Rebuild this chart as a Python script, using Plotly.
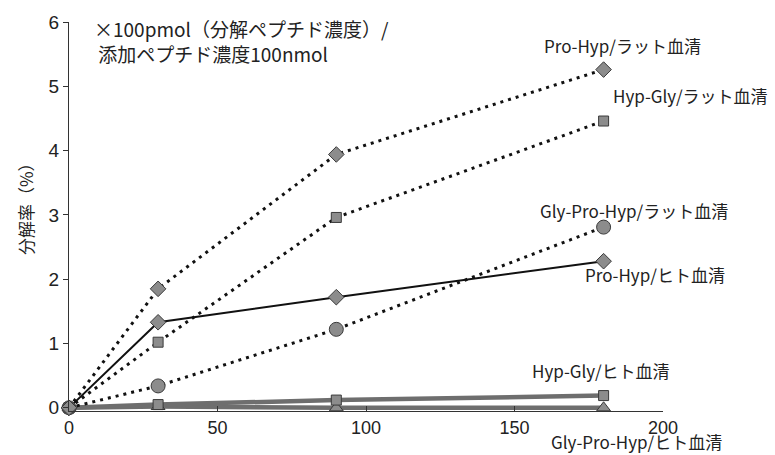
import plotly.graph_objects as go

# Incubation time points (x axis)
time_points = [0, 30, 90, 180]

# Degradation rate (%) for each peptide / serum combination
pro_hyp_rat = [0, 1.85, 3.94, 5.26]
hyp_gly_rat = [0, 1.02, 2.96, 4.46]
gly_pro_hyp_rat = [0, 0.34, 1.22, 2.81]
pro_hyp_human = [0, 1.33, 1.72, 2.28]
hyp_gly_human = [0, 0.05, 0.12, 0.19]
gly_pro_hyp_human = [0, 0.02, 0.0, 0.0]

series_names = [
    "Pro-Hyp/ラット血清",
    "Hyp-Gly/ラット血清",
    "Gly-Pro-Hyp/ラット血清",
    "Pro-Hyp/ヒト血清",
    "Hyp-Gly/ヒト血清",
    "Gly-Pro-Hyp/ヒト血清",
]

x_ticks = [0, 50, 100, 150, 200]
y_ticks = [0, 1, 2, 3, 4, 5, 6]

TEXT = "#222222"
MARK = "#8c8c8c"
EDGE = "#3a3a3a"
FONT = "Noto Sans CJK JP"

W, H = 775, 455
ML, MR, MT, MB = 69, 112, 18, 44
PW, PH = W - ML - MR, H - MT - MB


def px_to_paper(px, py):
    """Convert a pixel position in the figure to paper coordinates."""
    return (px - ML) / PW, 1 - (py - MT) / PH


fig = go.Figure()


def add_series(y, name, dash, lw, lcolor, symbol, msize):
    fig.add_trace(go.Scatter(
        x=time_points, y=y, name=name, mode="lines+markers",
        line=dict(color=lcolor, width=lw, dash=dash),
        marker=dict(symbol=symbol, size=msize, color=MARK,
                    line=dict(color=EDGE, width=1)),
        cliponaxis=False,
    ))


# human serum curves near zero: thick grey bands
add_series(gly_pro_hyp_human, series_names[5], "solid", 4.5, "#6e6e6e", "triangle-up", 12)
add_series(hyp_gly_human, series_names[4], "solid", 4.5, "#6e6e6e", "square", 10)
add_series(pro_hyp_human, series_names[3], "solid", 2, "#111111", "diamond", 12)
# rat serum curves: dotted
add_series(gly_pro_hyp_rat, series_names[2], "3px,5px", 3, "#111111", "circle", 14)
add_series(hyp_gly_rat, series_names[1], "3px,5px", 3, "#111111", "square", 10)
add_series(pro_hyp_rat, series_names[0], "3px,5px", 3, "#111111", "diamond", 12)

# series labels placed beside the end points
label_pos = [
    (622, 42, 17), (690, 92, 17), (634, 208, 17),
    (655, 273, 17), (601, 370, 17), (636, 442, 17),
]
for name, (px, py, fs) in zip(series_names, label_pos):
    ax, ay = px_to_paper(px, py)
    fig.add_annotation(
        x=ax, y=ay, xref="paper", yref="paper",
        text=name, showarrow=False, xanchor="center", yanchor="middle",
        font=dict(family=FONT, size=fs, color=TEXT),
    )

# unit note at the top left
nx, ny = px_to_paper(92, 9)
fig.add_annotation(
    x=nx, y=ny, xref="paper", yref="paper",
    text="×100pmol（分解ペプチド濃度）/<br> 添加ペプチド濃度100nmol",
    showarrow=False, xanchor="left", yanchor="top", align="left",
    font=dict(family=FONT, size=19, color=TEXT),
)

# y-axis title
tx, ty = px_to_paper(25, 203)
fig.add_annotation(
    x=tx, y=ty, xref="paper", yref="paper",
    text="分解率（%）", textangle=-90, showarrow=False,
    xanchor="center", yanchor="middle",
    font=dict(family=FONT, size=17, color=TEXT),
)

fig.update_layout(
    width=W, height=H,
    margin=dict(l=ML, r=MR, t=MT, b=MB),
    paper_bgcolor="white", plot_bgcolor="white",
    showlegend=False,
    xaxis=dict(
        range=[0, 200], tickvals=x_ticks, ticks="inside", ticklen=5,
        tickcolor="#333", showline=True, linecolor="#333", linewidth=1.2,
        showgrid=False, zeroline=False,
        tickfont=dict(family="Liberation Sans", size=18, color=TEXT),
    ),
    yaxis=dict(
        range=[-0.05, 6], tickvals=y_ticks, ticks="outside", ticklen=5,
        tickcolor="#333", showline=True, linecolor="#333", linewidth=1.2,
        showgrid=False, zeroline=False,
        tickfont=dict(family="Liberation Sans", size=19, color=TEXT),
    ),
)

fig.write_html("out.html")
